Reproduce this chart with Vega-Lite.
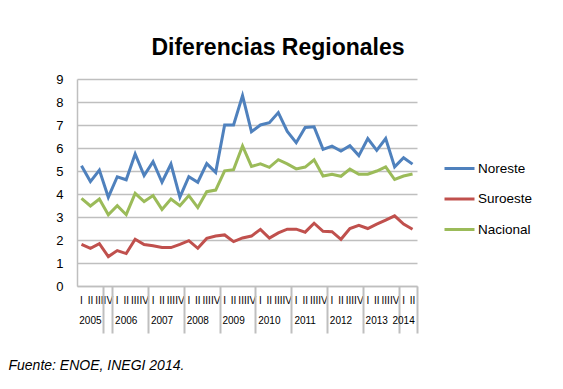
{
  "$schema": "https://vega.github.io/schema/vega-lite/v6.json",
  "width": 340,
  "height": 207,
  "autosize": {"type": "none"},
  "padding": {"left": 77, "top": 79, "right": 146, "bottom": 103},
  "background": "white",
  "config": {"view": {"stroke": null}, "font": "Liberation Sans"},
  "title": {"text": "Diferencias Regionales", "font": "Liberation Sans", "fontSize": 23, "fontWeight": "bold", "color": "black", "anchor": "middle", "frame": "group", "dx": 31, "offset": 13},
  "data": {"values": [
    {"periodo": "2005-I", "Noreste": 5.23, "Suroeste": 1.81, "Nacional": 3.81},
    {"periodo": "2005-II", "Noreste": 4.54, "Suroeste": 1.64, "Nacional": 3.48},
    {"periodo": "2005-III", "Noreste": 5.04, "Suroeste": 1.84, "Nacional": 3.78},
    {"periodo": "2005-IV", "Noreste": 3.86, "Suroeste": 1.28, "Nacional": 3.10},
    {"periodo": "2006-I", "Noreste": 4.75, "Suroeste": 1.54, "Nacional": 3.49},
    {"periodo": "2006-II", "Noreste": 4.62, "Suroeste": 1.41, "Nacional": 3.10},
    {"periodo": "2006-III", "Noreste": 5.74, "Suroeste": 2.03, "Nacional": 4.03},
    {"periodo": "2006-IV", "Noreste": 4.80, "Suroeste": 1.80, "Nacional": 3.67},
    {"periodo": "2007-I", "Noreste": 5.41, "Suroeste": 1.75, "Nacional": 3.93},
    {"periodo": "2007-II", "Noreste": 4.51, "Suroeste": 1.67, "Nacional": 3.33},
    {"periodo": "2007-III", "Noreste": 5.30, "Suroeste": 1.67, "Nacional": 3.78},
    {"periodo": "2007-IV", "Noreste": 3.86, "Suroeste": 1.81, "Nacional": 3.49},
    {"periodo": "2008-I", "Noreste": 4.75, "Suroeste": 1.97, "Nacional": 3.93},
    {"periodo": "2008-II", "Noreste": 4.51, "Suroeste": 1.64, "Nacional": 3.41},
    {"periodo": "2008-III", "Noreste": 5.32, "Suroeste": 2.07, "Nacional": 4.10},
    {"periodo": "2008-IV", "Noreste": 4.94, "Suroeste": 2.17, "Nacional": 4.17},
    {"periodo": "2009-I", "Noreste": 7.00, "Suroeste": 2.22, "Nacional": 5.01},
    {"periodo": "2009-II", "Noreste": 7.00, "Suroeste": 1.93, "Nacional": 5.06},
    {"periodo": "2009-III", "Noreste": 8.28, "Suroeste": 2.09, "Nacional": 6.09},
    {"periodo": "2009-IV", "Noreste": 6.71, "Suroeste": 2.17, "Nacional": 5.20},
    {"periodo": "2010-I", "Noreste": 7.00, "Suroeste": 2.46, "Nacional": 5.31},
    {"periodo": "2010-II", "Noreste": 7.10, "Suroeste": 2.08, "Nacional": 5.16},
    {"periodo": "2010-III", "Noreste": 7.54, "Suroeste": 2.31, "Nacional": 5.49},
    {"periodo": "2010-IV", "Noreste": 6.72, "Suroeste": 2.47, "Nacional": 5.31},
    {"periodo": "2011-I", "Noreste": 6.23, "Suroeste": 2.47, "Nacional": 5.09},
    {"periodo": "2011-II", "Noreste": 6.89, "Suroeste": 2.34, "Nacional": 5.17},
    {"periodo": "2011-III", "Noreste": 6.92, "Suroeste": 2.73, "Nacional": 5.49},
    {"periodo": "2011-IV", "Noreste": 5.94, "Suroeste": 2.38, "Nacional": 4.78},
    {"periodo": "2012-I", "Noreste": 6.08, "Suroeste": 2.36, "Nacional": 4.86},
    {"periodo": "2012-II", "Noreste": 5.87, "Suroeste": 2.03, "Nacional": 4.77},
    {"periodo": "2012-III", "Noreste": 6.10, "Suroeste": 2.50, "Nacional": 5.08},
    {"periodo": "2012-IV", "Noreste": 5.67, "Suroeste": 2.64, "Nacional": 4.86},
    {"periodo": "2013-I", "Noreste": 6.41, "Suroeste": 2.50, "Nacional": 4.86},
    {"periodo": "2013-II", "Noreste": 5.90, "Suroeste": 2.69, "Nacional": 5.00},
    {"periodo": "2013-III", "Noreste": 6.41, "Suroeste": 2.86, "Nacional": 5.18},
    {"periodo": "2013-IV", "Noreste": 5.18, "Suroeste": 3.05, "Nacional": 4.63},
    {"periodo": "2014-I", "Noreste": 5.58, "Suroeste": 2.69, "Nacional": 4.78},
    {"periodo": "2014-II", "Noreste": 5.30, "Suroeste": 2.47, "Nacional": 4.87}
  ]},
  "transform": [{"fold": ["Noreste", "Suroeste", "Nacional"], "as": ["serie", "valor"]}],
  "layer": [
    {
      "mark": {"type": "line", "strokeWidth": 3},
      "encoding": {
        "x": {
          "field": "periodo", "type": "ordinal", "sort": null, "bandPosition": 0.5,
          "scale": {"type": "band", "paddingInner": 0, "paddingOuter": 0},
          "axis": {
            "orient": "bottom",
            "labelExpr": "split(datum.value, '-')[1]",
            "labelAngle": 0, "labelFontSize": 10, "labelFont": "Liberation Sans",
            "labelColor": "black", "labelOverlap": false, "labelFlush": false, "labelBound": false,
            "labelBaseline": "middle", "labelPadding": 14,
            "ticks": false,
            "domain": true, "domainColor": "#bfbfbf", "domainWidth": 1.5, "grid": false,
            "title": "Fuente: ENOE, INEGI 2014.", "titleFont": "Liberation Sans", "titleFontSize": 14,
            "titleFontStyle": "italic", "titleFontWeight": "normal", "titleColor": "black",
            "titleAnchor": "start", "titleAlign": "left", "titleBaseline": "alphabetic",
            "titleX": -69, "titleY": 83
          }
        },
        "y": {
          "field": "valor", "type": "quantitative",
          "scale": {"domain": [0, 9], "nice": false},
          "axis": {
            "values": [0, 1, 2, 3, 4, 5, 6, 7, 8, 9], "title": null,
            "grid": true, "gridColor": "#bfbfbf", "gridWidth": 1.5,
            "ticks": false, "domain": true, "domainColor": "#bfbfbf", "domainWidth": 1.5,
            "labelFontSize": 13, "labelFont": "Liberation Sans", "labelColor": "black", "labelPadding": 14
          }
        },
        "color": {
          "field": "serie", "type": "nominal",
          "scale": {"domain": ["Noreste", "Suroeste", "Nacional"], "range": ["#4F81BD", "#C0504D", "#9BBB59"]},
          "legend": {
            "title": null, "orient": "none", "legendX": 366, "legendY": 73,
            "symbolType": "stroke", "symbolSize": 900, "symbolStrokeWidth": 3,
            "labelFont": "Liberation Sans", "labelFontSize": 13.5, "labelColor": "black",
            "labelOffset": 2, "rowPadding": 7.5, "padding": 0
          }
        }
      }
    },
    {
      "mark": {"type": "point", "opacity": 0},
      "encoding": {
        "x": {
          "field": "periodo", "type": "ordinal", "sort": null,
          "axis": {
            "orient": "bottom", "bandPosition": 1, "tickExtra": true,
            "values": ["2005-IV", "2006-IV", "2007-IV", "2008-IV", "2009-IV", "2010-IV", "2011-IV", "2012-IV", "2013-IV", "2014-II"],
            "labels": false, "ticks": true, "tickSize": 47, "tickWidth": 2, "tickColor": "#bfbfbf", "tickOpacity": 1,
            "domain": true, "domainOpacity": 0, "grid": false, "title": null
          }
        }
      }
    },
    {
      "mark": {"type": "point", "opacity": 0},
      "encoding": {
        "x": {
          "field": "periodo", "type": "ordinal", "sort": null,
          "axis": {
            "orient": "bottom", "bandPosition": 1,
            "values": ["2005-II", "2006-II", "2007-II", "2008-II", "2009-II", "2010-II", "2011-II", "2012-II", "2013-II", "2014-I"],
            "labelExpr": "split(datum.value, '-')[0]",
            "labelAngle": 0, "labelFontSize": 10, "labelFont": "Liberation Sans", "labelColor": "black",
            "labelOverlap": false, "labelFlush": false, "labelBound": false,
            "labelBaseline": "middle", "labelPadding": 34,
            "ticks": false, "domain": false, "grid": false, "title": null
          }
        }
      }
    }
  ],
  "resolve": {"axis": {"x": "independent"}}
}
